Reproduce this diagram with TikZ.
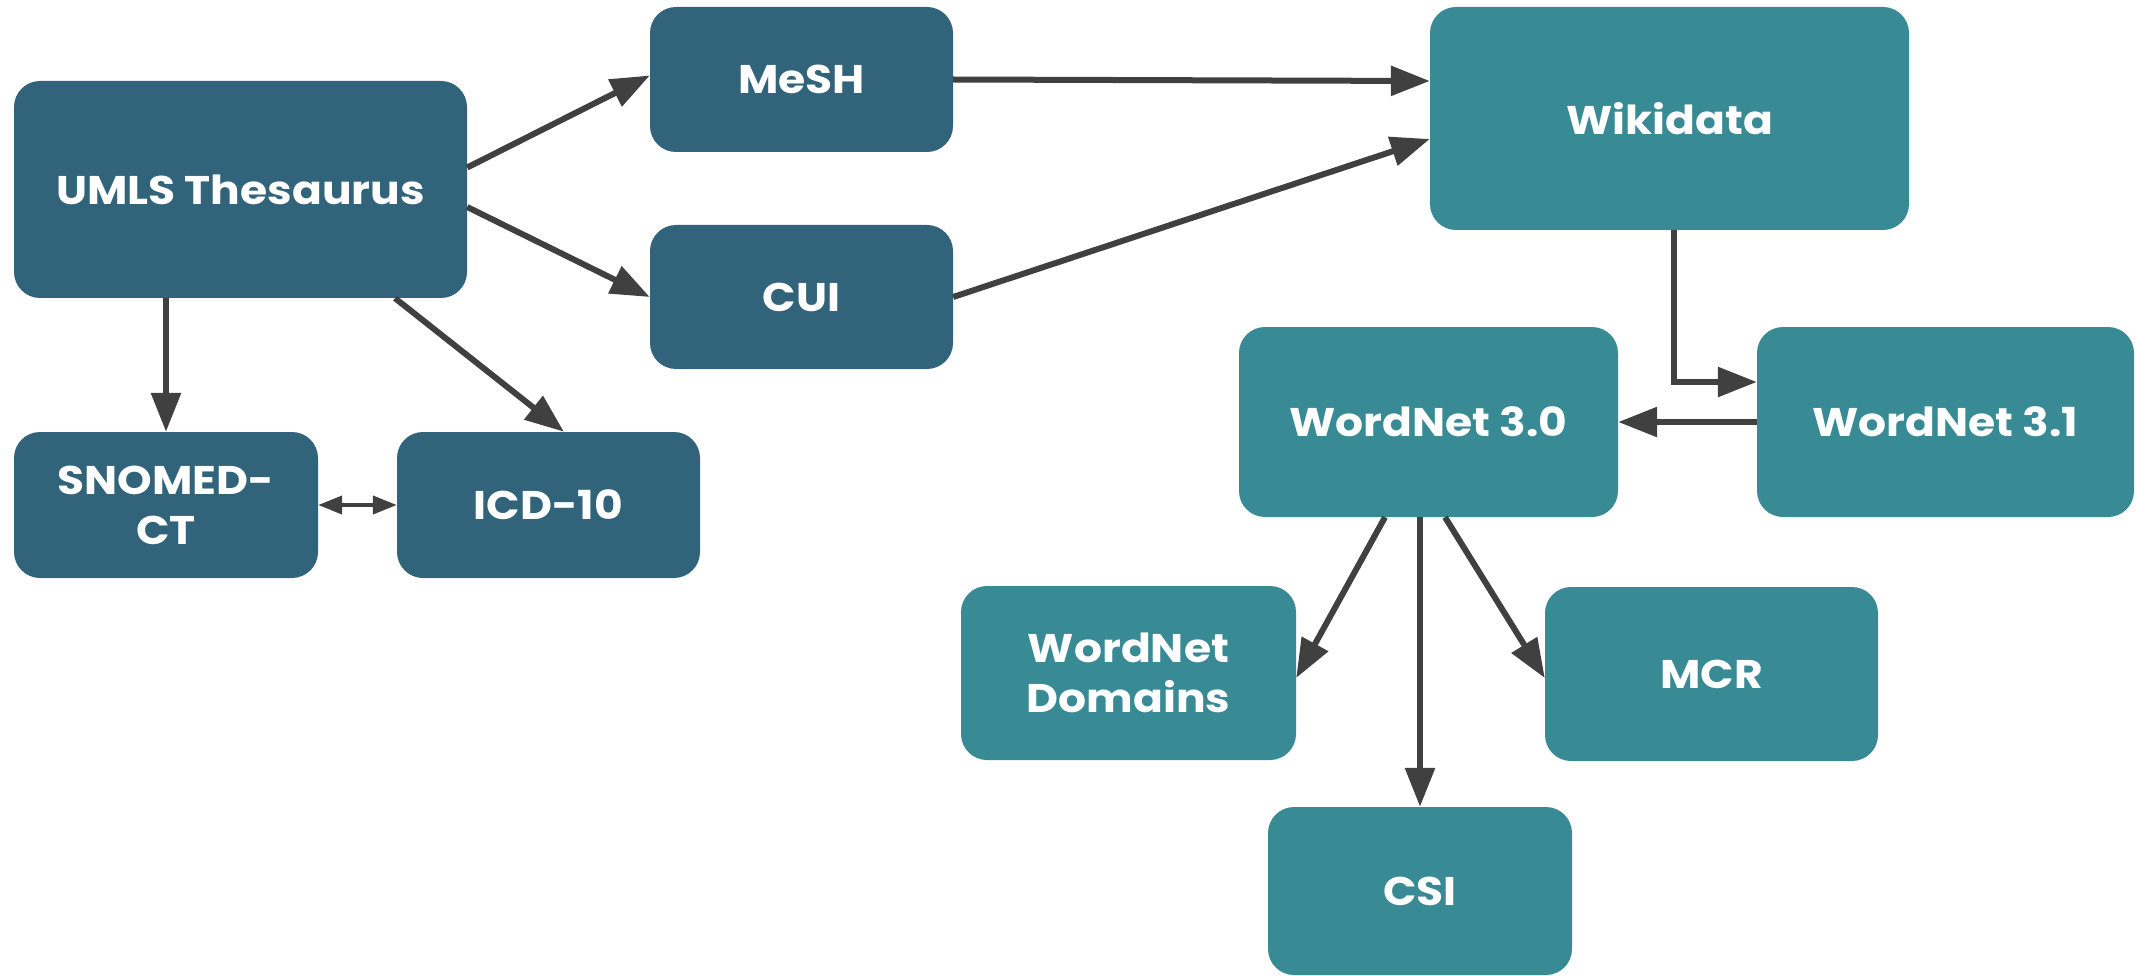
\documentclass[tikz,border=0pt]{standalone}
\usepackage{fontspec}
\setmainfont{Poppins}[BoldFeatures={FakeStretch=1.1}]
\usetikzlibrary{arrows.meta,calc}
\definecolor{dkblue}{RGB}{49,99,122}
\definecolor{tealc}{RGB}{56,138,148}
\definecolor{arr}{RGB}{64,64,64}
\tikzset{
  box/.style={rounded corners=26pt, inner sep=0pt, align=center, text=white,
    font=\fontsize{40}{50}\selectfont\bfseries},
  dk/.style={box, fill=dkblue},
  tl/.style={box, fill=tealc},
  con/.style={draw=arr, line width=6pt, -{Triangle[length=39pt,width=29pt]}},
  dcon/.style={draw=arr, line width=4pt, {Triangle[length=24pt,width=18pt]}-{Triangle[length=24pt,width=18pt]}},
}
\begin{document}
\begin{tikzpicture}[x=1pt,y=-1pt]
\useasboundingbox (0,0) rectangle (2136,976);
\begin{scope}
\clip (0,0) rectangle (2136,976);
\node[dk, minimum width=453pt, minimum height=217pt] (umls) at (240.5,189.5) {UMLS Thesaurus};
\node[dk, minimum width=303pt, minimum height=145pt] (mesh) at (801.5,79.5) {MeSH};
\node[dk, minimum width=303pt, minimum height=144pt] (cui) at (801.5,297) {CUI};
\node[dk, minimum width=304pt, minimum height=146pt] (snomed) at (166,505) {SNOMED-\\CT};
\node[dk, minimum width=303pt, minimum height=146pt] (icd) at (548.5,505) {ICD-10};
\node[tl, minimum width=479pt, minimum height=223pt] (wiki) at (1669.5,118.5) {Wikidata};
\node[tl, minimum width=379pt, minimum height=190pt] (wn30) at (1428.5,422) {WordNet 3.0};
\node[tl, minimum width=377pt, minimum height=190pt] (wn31) at (1945.5,422) {WordNet 3.1};
\node[tl, minimum width=335pt, minimum height=174pt] (dom) at (1128.5,673) {WordNet\\Domains};
\node[tl, minimum width=333pt, minimum height=174pt] (mcr) at (1711.5,674) {MCR};
\node[tl, minimum width=304pt, minimum height=168pt] (csi) at (1420,891) {CSI};
\end{scope}
\draw[con] ([yshift=22pt]umls.east) -- ([yshift=4pt]mesh.west);
\draw[con] ([yshift=-17.5pt]umls.east) -- (cui.west);
\draw[con] (umls.south -| snomed.north) -- (snomed.north);
\draw[con] ([xshift=154.5pt]umls.south) -- ([xshift=15.5pt]icd.north);
\draw[dcon] (snomed.east) -- (icd.west);
\draw[con] (mesh.east) -- ([yshift=37.5pt]wiki.west);
\draw[con] (cui.east) -- ([yshift=-20.5pt]wiki.west);
\draw[con] ([xshift=4.5pt]wiki.south) |- ([yshift=40pt]wn31.west);
\draw[con] (wn31.west) -- (wn30.east);
\draw[con] ([xshift=-43.5pt]wn30.south) -- ([yshift=-5pt]dom.east);
\draw[con] (wn30.south -| csi.north) -- (csi.north);
\draw[con] ([xshift=16.5pt]wn30.south) -- ([yshift=-4pt]mcr.west);
\end{tikzpicture}
\end{document}
